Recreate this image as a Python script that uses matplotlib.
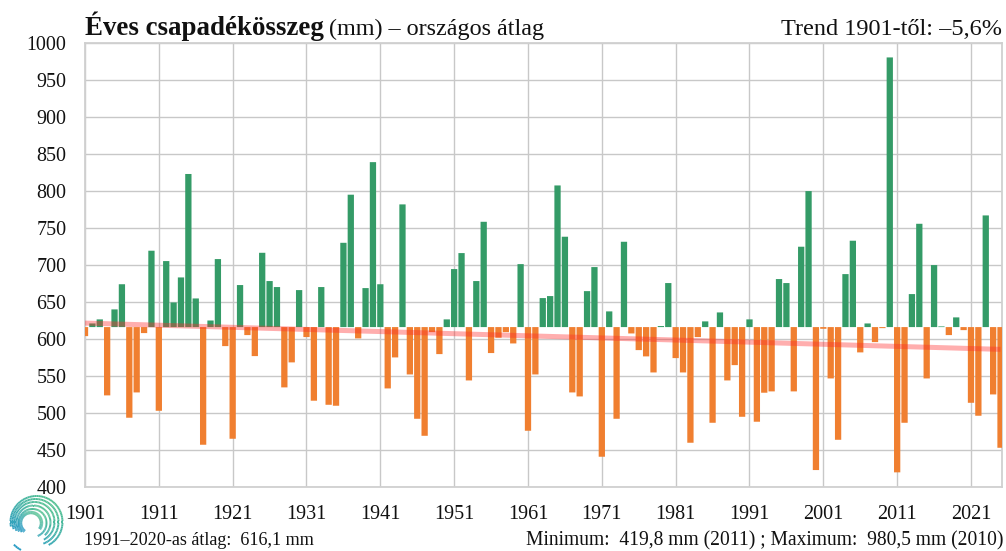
import numpy as np
import matplotlib
matplotlib.use('Agg')
import matplotlib.pyplot as plt
from matplotlib.collections import LineCollection

plt.rcParams['font.family'] = ['Liberation Serif', 'DejaVu Serif']

first_year = 1901
values = [603.9, 621, 626.5, 523.8, 640, 674, 493.6, 527.8, 608, 719.3,
          503, 705.3, 649.4, 683.2, 823, 654.8, 457.1, 625, 708, 590.4,
          465.2, 672.9, 605.3, 576.9, 716.5, 678.3, 670.2, 534.6, 568.4, 666.1,
          602.6, 516.6, 670.2, 511.1, 509.8, 730, 795, 600.8, 668.8, 839,
          674, 533.2, 575.1, 781.9, 552.1, 492.2, 469.2, 609.3, 579.6, 626.5,
          694.5, 716.1, 544, 678.3, 758.4, 581, 601.7, 609.3, 594, 701.2,
          476, 552.1, 655.3, 658, 807.5, 738.2, 527.8, 522.4, 664.7, 697.2,
          440.9, 637.3, 492.2, 731.4, 607.5, 585, 576.5, 554.8, 617.5, 675.6,
          574.2, 554.8, 459.8, 602.6, 623.8, 486.8, 635.9, 544, 564.7, 494.9,
          626.5, 488.2, 527.4, 529.2, 681, 675.6, 529.2, 724.7, 799.9, 422.9,
          613.8, 546.7, 463.8, 687.7, 732.8, 581.9, 621, 595.8, 614.7, 980.5,
          419.8, 486.8, 660.7, 755.7, 546.7, 699.9, 617, 605.3, 629.2, 612,
          513.8, 496.3, 767, 525.1, 453]
years = list(range(first_year, first_year + len(values)))
baseline = 616.1
trend_years = [1901, 2025]
trend_values = [621.5, 586]
y_ticks = list(range(400, 1001, 50))
x_ticks = list(range(1901, 2022, 10))

W, H = 1006, 551
fig = plt.figure(figsize=(W / 100, H / 100), dpi=100, facecolor='white')
ax = fig.add_axes([85 / W, 1 - 487 / H, (1002 - 85) / W, (487 - 43) / H])

v = np.array(values)
colors = ['#349B67' if a >= baseline else '#F07F30' for a in v]
bars = ax.bar(years, v - baseline, bottom=baseline, width=0.85, color=colors,
              linewidth=0, zorder=3)
for b in bars:
    b.set_snap(False)
ax.plot(trend_years, trend_values, color='#FF2A2A', alpha=0.38, lw=3.6,
        solid_capstyle='butt', zorder=4)

ax.set_xlim(1901, 2025.2)
ax.set_ylim(400, 1000)
ax.set_yticks(y_ticks)
ax.set_xticks(x_ticks)
ax.grid(True, color='#C8C8C8', lw=1.0, zorder=0)
ax.set_axisbelow(True)
ax.tick_params(length=0, colors='#111111')
ax.tick_params(axis='x', pad=13, labelsize=14.5)
ax.tick_params(axis='y', pad=13.5, labelsize=14.4)
for s in ax.spines.values():
    s.set_color('#D0D0D0')
    s.set_linewidth(1.3)


def ftext(x, y, s, **kw):
    return fig.text(x / W, 1 - y / H, s, color='#111111', va='baseline', **kw)


ftext(85, 35, 'Éves csapadékösszeg', fontsize=19.4, fontweight='bold', ha='left')
ftext(329, 35, '(mm) – országos átlag', fontsize=17.4, ha='left')
ftext(1002, 35, 'Trend 1901-től: –5,6%', fontsize=17.5, ha='right')
ftext(84, 545, '1991–2020-as átlag:  616,1 mm', fontsize=13.1, ha='left')
ftext(1004, 545, 'Minimum:  419,8 mm (2011) ; Maximum:  980,5 mm (2010)',
      fontsize=14.05, ha='right')

# logo: offset arcs forming a spiral, with a teal gradient
logo = fig.add_axes([0, 0, 1, 1], frameon=False, zorder=5)
logo.set_xlim(0, W)
logo.set_ylim(H, 0)
logo.set_xticks([])
logo.set_yticks([])
logo.patch.set_alpha(0)
green = np.array(matplotlib.colors.to_rgb('#52C092'))
blue = np.array(matplotlib.colors.to_rgb('#2A9CC4'))
for r, cx, cy, t0, t1, lw in [(32, 36.5, 522, 225, 242, 1.4),
                              (26, 36.5, 522, -62, 190, 1.4),
                              (23, 35.5, 522, -70, 200, 1.4),
                              (20, 34.5, 522, -62, 208, 1.4),
                              (17, 33.5, 522.5, -48, 215, 1.4),
                              (14, 32.5, 523, -68, 222, 1.4),
                              (10.5, 31, 523, -35, 235, 2.4)]:
    t = np.radians(np.arange(t0, t1 + 1, 4.0))
    pts = np.column_stack([cx + r * np.cos(t), cy - r * np.sin(t)])
    segs = np.stack([pts[:-1], pts[1:]], axis=1)
    mix = (1 + np.cos(t[:-1] - np.radians(50))) / 2
    cols = [green * m + blue * (1 - m) for m in mix]
    logo.add_collection(LineCollection(segs, colors=cols, linewidths=lw, capstyle='butt'))

fig.savefig('out.png', dpi=100)
